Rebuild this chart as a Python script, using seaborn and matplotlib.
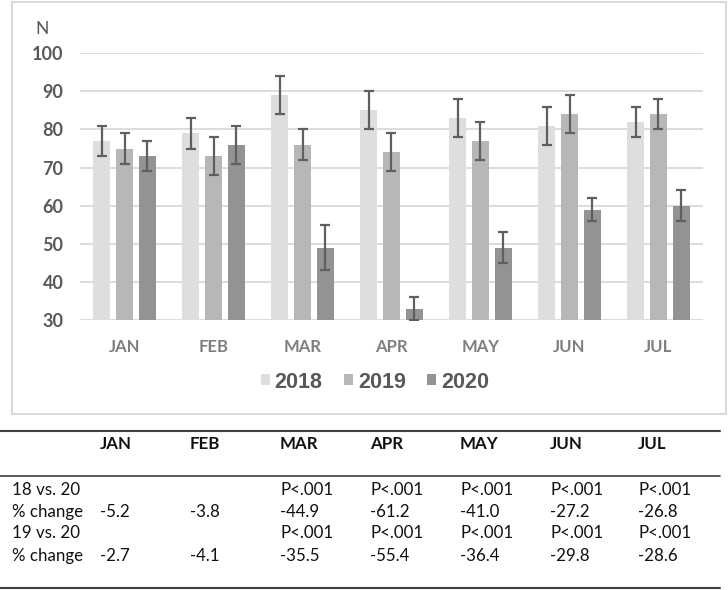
import matplotlib
matplotlib.use("Agg")
import matplotlib.pyplot as plt
import seaborn as sns
import pandas as pd
from matplotlib.lines import Line2D
from matplotlib.patches import Rectangle

# ---- data ----
months = ["JAN", "FEB", "MAR", "APR", "MAY", "JUN", "JUL"]
years = ["2018", "2019", "2020"]
n2018 = [77, 79, 89, 85, 83, 81, 82]
n2019 = [75, 73, 76, 74, 77, 84, 84]
n2020 = [73, 76, 49, 33, 49, 59, 60]
err2018 = [4, 4, 5, 5, 5, 5, 4]
err2019 = [4, 5, 4, 5, 5, 5, 4]
err2020 = [4, 5, 6, 3, 4, 3, 4]

row_labels = ["18 vs. 20", "% change", "19 vs. 20", "% change"]
p18 = ["", "", "P<.001", "P<.001", "P<.001", "P<.001", "P<.001"]
chg18 = ["-5.2", "-3.8", "-44.9", "-61.2", "-41.0", "-27.2", "-26.8"]
p19 = ["", "", "P<.001", "P<.001", "P<.001", "P<.001", "P<.001"]
chg19 = ["-2.7", "-4.1", "-35.5", "-55.4", "-36.4", "-29.8", "-28.6"]

colors = ["#dedede", "#b7b7b7", "#939393"]

df = pd.DataFrame({
    "month": months * 3,
    "year": [y for y in years for _ in months],
    "n": n2018 + n2019 + n2020,
})
errs = [err2018, err2019, err2020]

sns.set_theme(style="white")
plt.rcParams["font.family"] = ["Lato", "DejaVu Sans"]

W, H = 728, 590
fig = plt.figure(figsize=(W / 100, H / 100), dpi=100)

def fx(x):
    return x / W

def fy(y):
    return 1 - y / H

# chart box
fig.add_artist(Rectangle((fx(12), fy(414)), fx(714), (412) / H,
                         transform=fig.transFigure, fill=False,
                         edgecolor="#d9d9d9", linewidth=1.5))

ax = fig.add_axes([fx(80), fy(320), fx(623), (320 - 53.3) / H])
sns.barplot(data=df, x="month", y="n", hue="year", order=months,
            hue_order=years, palette=colors, errorbar=None,
            width=0.76, gap=0.25, ax=ax, saturation=1, linewidth=0)

for cont, e in zip(ax.containers, errs):
    xs = [p.get_x() + p.get_width() / 2 for p in cont.patches]
    ys = [p.get_height() for p in cont.patches]
    ax.errorbar(xs, ys, yerr=e, fmt="none", ecolor="#5f5f5f",
                elinewidth=1.6, capsize=3.5, capthick=1.6, zorder=5)

ax.set_xlim(-0.5, len(months) - 0.5)
ax.set_ylim(30, 100)
ax.set_yticks([30, 40, 50, 60, 70, 80, 90, 100])
ax.yaxis.grid(True, color="#d9d9d9", linewidth=1.3)
ax.set_axisbelow(True)
for s in ax.spines.values():
    s.set_visible(False)
ax.set_xlabel("")
ax.set_ylabel("")
ax.tick_params(axis="y", length=0, pad=12, labelsize=13, labelcolor="#595959")
ax.tick_params(axis="x", length=0, pad=14, labelsize=12, labelcolor="#7f7f7f")
for t in ax.get_yticklabels():
    t.set_fontweight("bold")
for t in ax.get_xticklabels():
    t.set_fontweight("bold")

fig.text(fx(42), fy(29), "N", ha="center", va="center", fontsize=12.5,
         color="#595959")

leg = ax.legend(loc="center", bbox_to_anchor=(fx(375), fy(382)),
                bbox_transform=fig.transFigure, ncol=3, frameon=False,
                handlelength=0.42, handleheight=0.42, handletextpad=0.22,
                columnspacing=1.0, prop={"family": "Liberation Sans",
                                         "weight": "bold", "size": 15.5})
for t in leg.get_texts():
    t.set_color("#595959")

# ---- table ----
for yl, lw in [(431, 1.5), (476, 1.2), (588, 1.5)]:
    fig.add_artist(Line2D([0, fx(720)], [fy(yl), fy(yl)],
                          transform=fig.transFigure, color="#404040",
                          linewidth=lw))

col_x = [100, 190, 280, 370, 460, 550, 638]
tfs = 12.2
for m, x in zip(months, col_x):
    fig.text(fx(x), fy(444), m, ha="left", va="center", fontsize=tfs,
             fontweight="bold", color="#111111")

row_y = [490, 512, 533, 556]
rows = [p18, chg18, p19, chg19]
for lab, y, vals in zip(row_labels, row_y, rows):
    fig.text(fx(12), fy(y), lab, ha="left", va="center", fontsize=tfs,
             color="#111111")
    for v, x in zip(vals, col_x):
        if v:
            fig.text(fx(x), fy(y), v, ha="left", va="center", fontsize=tfs,
                     color="#111111")

fig.savefig("out.png", dpi=100)
